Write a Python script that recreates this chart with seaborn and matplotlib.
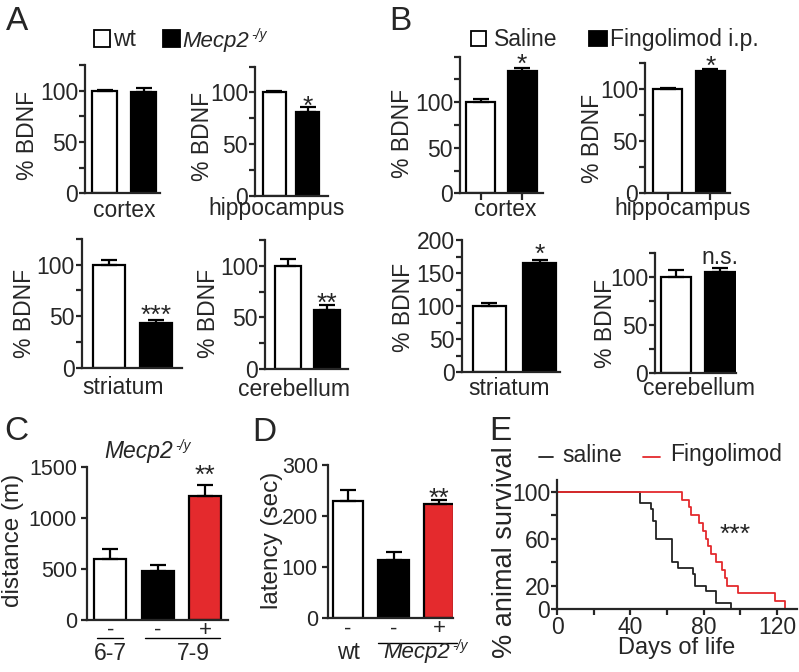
import numpy as np
import pandas as pd
import seaborn as sns
import matplotlib.pyplot as plt
import matplotlib.transforms as mtransforms
from matplotlib.patches import Rectangle
from matplotlib.lines import Line2D

# ---- data ----
# A: wt vs Mecp2-/y, % BDNF
a_cortex, a_cortex_err = [100, 98.5], [1, 4]
a_hippo, a_hippo_err = [100, 81], [1, 5]
a_striatum, a_striatum_err = [100, 43], [5, 3.5]
a_cerebellum, a_cerebellum_err = [100, 57.5], [7, 4.5]
# B: saline vs fingolimod i.p., % BDNF
b_cortex, b_cortex_err = [100, 134.5], [4, 3.5]
b_hippo, b_hippo_err = [100, 117.5], [1.5, 1.8]
b_striatum, b_striatum_err = [100, 165], [5, 5]
b_cerebellum, b_cerebellum_err = [100, 105], [7.5, 4]
# C: distance (m)
c_groups = ["6-7 -", "7-9 -", "7-9 +"]
c_distance, c_distance_err = [595, 475, 1215], [100, 65, 105]
# D: latency (sec)
d_groups = ["wt -", "Mecp2 -", "Mecp2 +"]
d_latency, d_latency_err = [230, 115, 224], [22, 15, 8]
# E: survival curves
saline_days = [0, 45, 51, 52.5, 54, 62.5, 66, 74, 75, 81.5, 87, 95]
saline_surv = [100, 90, 85, 75, 60, 40, 35, 30, 20, 15, 5, 0]
fingo_days = [0, 68, 72, 73.3, 77.5, 79.5, 81.5, 82.5, 84, 87, 90, 91.5, 93, 99, 119, 124.5]
fingo_surv = [100, 93.3, 86.7, 80, 73.3, 66.7, 60, 53.3, 46.7, 40, 33.3, 26.7, 20, 13.3, 6.7, 0]

RED = "#e42a2d"
W, H = 799, 672

sns.set_style("ticks")
plt.rcParams["font.family"] = ["Liberation Sans", "DejaVu Sans"]
plt.rcParams["axes.linewidth"] = 1.6

fig = plt.figure(figsize=(W / 100, H / 100), dpi=100)
renderer = fig.canvas.get_renderer()


def fx(x):
    return x / W


def fy(y):
    return 1 - y / H


def px_rect(x0, y0, x1, y1):
    return [fx(x0), fy(y1), (x1 - x0) / W, (y1 - y0) / H]


def bar_panel(box, means, errs, colors, ymax, yticks, ylabels, xlim, width,
              ylabel, ylab_xy, xlabel=None, xlab_xy=None, xticks=False,
              tick_size=16.5, label_size=16.5):
    ax = fig.add_axes(px_rect(*box))
    df = pd.DataFrame({"g": [str(i) for i in range(len(means))], "v": means})
    sns.barplot(data=df, x="g", y="v", hue="g",
                palette=dict(zip(df["g"], colors)), width=width,
                edgecolor="black", linewidth=1.6, errorbar=None,
                legend=False, saturation=1, ax=ax)
    ax.errorbar(range(len(means)), means, yerr=[np.zeros(len(means)), errs],
                fmt="none", ecolor="black", elinewidth=1.6, capsize=6,
                capthick=1.6, zorder=3)
    sns.despine(ax=ax)
    ax.set_ylim(0, ymax)
    ax.set_xlim(*xlim)
    ax.set_yticks(yticks)
    ax.set_yticklabels(ylabels)
    ax.tick_params(axis="y", length=4, width=1.6, pad=1, labelsize=tick_size)
    ax.tick_params(axis="x", length=5 if xticks else 0, width=1.6,
                   labelbottom=False)
    ax.set_ylabel(ylabel, fontsize=label_size)
    ax.yaxis.set_label_coords(fx(ylab_xy[0]), fy(ylab_xy[1]),
                              transform=fig.transFigure)
    if xlabel:
        ax.set_xlabel(xlabel, fontsize=label_size)
        ax.xaxis.set_label_coords(fx(xlab_xy[0]), fy(xlab_xy[1]),
                                  transform=fig.transFigure)
    else:
        ax.set_xlabel("")
    return ax


def star(ax, i, top, text, gap_px, size=19):
    # place glyph bottom gap_px above the error cap
    if "*" in text:
        off = gap_px - 0.30 * size * 100 / 72
    else:
        off = gap_px
    ax.annotate(text, xy=(i, top), xytext=(0, off * 72 / 100),
                textcoords="offset points", ha="center", va="baseline",
                fontsize=size, annotation_clip=False)


def italic_with_sup(x, y, main, sup, size=16, sup_size=10, rise=8, **kw):
    # italic gene name followed by a small superscript genotype
    t = fig.text(fx(x), fy(y), main, fontsize=size, va="baseline",
                 style="italic", **kw)
    bb = t.get_window_extent(renderer)
    fig.text((bb.x1 + 3) / W, fy(y - rise), sup, fontsize=sup_size,
             va="baseline", style="italic")
    return t


wb = ["white", "black"]
t125 = [0, 25, 50, 75, 100, 125]
l125 = ["0", "", "50", "", "100", ""]

# ---- panel A ----
ax = bar_panel((85, 65, 160, 193.3), a_cortex, a_cortex_err, wb, 125, t125, l125,
               (-0.50, 1.42), 0.66, "% BDNF", (39, 135), "cortex", (124, 199))
ax = bar_panel((255, 66.7, 328, 195.7), a_hippo, a_hippo_err, wb, 125, t125, l125,
               (-0.59, 1.62), 0.70, "% BDNF", (214, 136), "hippocampus", (277, 197))
star(ax, 1, a_hippo[1] + a_hippo_err[1], "*", 1.5)
ax = bar_panel((81.7, 239, 181.7, 367.7), a_striatum, a_striatum_err, wb, 125, t125, l125,
               (-0.57, 1.55), 0.68, "% BDNF", (36, 313), "striatum", (123, 376))
star(ax, 1, a_striatum[1] + a_striatum_err[1], "***", 5)
ax = bar_panel((265, 240, 348, 369), a_cerebellum, a_cerebellum_err, wb, 125, t125, l125,
               (-0.59, 1.54), 0.68, "% BDNF", (220, 313), "cerebellum", (294, 378))
star(ax, 1, a_cerebellum[1] + a_cerebellum_err[1], "**", 2)

# ---- panel B ----
ax = bar_panel((460, 56.7, 543.3, 193.3), b_cortex, b_cortex_err, wb, 150,
               [0, 25, 50, 75, 100, 125, 150], ["0", "", "50", "", "100", "", ""],
               (-0.50, 1.51), 0.70, "% BDNF", (414, 133), "cortex", (505, 198),
               xticks=True)
star(ax, 1, b_cortex[1] + b_cortex_err[1], "*", 3.7)
ax = bar_panel((645, 63.3, 730, 193.3), b_hippo, b_hippo_err, wb, 125, t125, l125,
               (-0.53, 1.46), 0.69, "% BDNF", (604, 138), "hippocampus", (683, 197),
               xticks=True)
star(ax, 1, b_hippo[1] + b_hippo_err[1], "*", 3.3)
ax = bar_panel((461.7, 240, 560, 372.3), b_striatum, b_striatum_err, wb, 200,
               [0, 25, 50, 75, 100, 125, 150, 175, 200],
               ["0", "", "50", "", "100", "", "150", "", "200"],
               (-0.55, 1.40), 0.66, "% BDNF", (415, 307), "striatum", (509, 377))
star(ax, 1, b_striatum[1] + b_striatum_err[1], "*", 6)
ax = bar_panel((655, 252.7, 736, 373.3), b_cerebellum, b_cerebellum_err, wb, 125, t125, l125,
               (-0.48, 1.36), 0.68, "% BDNF", (617, 323), "cerebellum", (699, 377))
star(ax, 1, b_cerebellum[1] + b_cerebellum_err[1], "n.s.", 4, size=16.5)

# ---- panel C ----
ax = bar_panel((86.7, 466.7, 228.3, 620), c_distance, c_distance_err,
               ["white", "black", RED], 1500, [0, 500, 1000, 1500],
               ["0", "500", "1000", "1500"], (-0.50, 2.49), 0.68,
               "distance (m)", (24, 540), tick_size=15.5, label_size=17.5)
ax.tick_params(axis="y", pad=3)
star(ax, 2, c_distance[2] + c_distance_err[2], "**", 10)
bt = mtransforms.blended_transform_factory(ax.transData, fig.transFigure)
for i, s in enumerate(["-", "-", "+"]):
    ax.text(i, fy(630), s, transform=bt, ha="center", va="center", fontsize=16)
ax.plot([-0.29, 0.27], [fy(638.3)] * 2, transform=bt, color="black", lw=1, clip_on=False)
ax.plot([0.73, 2.32], [fy(638.3)] * 2, transform=bt, color="black", lw=1, clip_on=False)
ax.text(0, fy(660), "6-7", transform=bt, ha="center", va="baseline", fontsize=16.5)
ax.text(1.75, fy(660), "7-9", transform=bt, ha="center", va="baseline", fontsize=16.5)

# ---- panel D ----
ax = bar_panel((327.7, 465, 453.3, 618.3), d_latency, d_latency_err,
               ["white", "black", RED], 300, [0, 100, 200, 300],
               ["0", "100", "200", "300"], (-0.45, 2.31), 0.67,
               "latency (sec)", (283, 540), tick_size=15.5, label_size=17.5)
ax.tick_params(axis="y", pad=3)
star(ax, 2, d_latency[2] + d_latency_err[2], "**", 2)
bt = mtransforms.blended_transform_factory(ax.transData, fig.transFigure)
for i, s in enumerate(["-", "-", "+"]):
    ax.text(i, fy(629), s, transform=bt, ha="center", va="center", fontsize=16)
ax.plot([0.665, 2.39], [fy(643)] * 2, transform=bt, color="black", lw=1, clip_on=False)
ax.text(0, fy(659), "wt", transform=bt, ha="center", va="baseline", fontsize=16.5)
italic_with_sup(383, 658, "Mecp2", "-/y", size=16)

# ---- panel E ----
ax = fig.add_axes(px_rect(557.3, 480, 797, 609))
sns.lineplot(x=saline_days, y=saline_surv, drawstyle="steps-post", color="#222222",
             lw=1.3, estimator=None, sort=False, ax=ax)
sns.lineplot(x=fingo_days, y=fingo_surv, drawstyle="steps-post", color=RED,
             lw=1.3, estimator=None, sort=False, ax=ax)
sns.despine(ax=ax)
ax.set_xlim(0, 131)
ax.set_ylim(0, 110)
ax.set_xticks([0, 20, 40, 60, 80, 100, 120])
ax.set_xticklabels(["0", "", "40", "", "80", "", "120"])
ax.set_yticks([0, 20, 40, 60, 80, 100])
ax.set_yticklabels(["0", "20", "", "60", "", "100"])
ax.tick_params(length=4, width=1.6, pad=1, labelsize=16.5)
ax.set_xlabel("Days of life", fontsize=17)
ax.xaxis.set_label_coords(fx(677), fy(637), transform=fig.transFigure)
ax.set_ylabel("% animal survival", fontsize=19.5)
ax.yaxis.set_label_coords(fx(518), fy(552), transform=fig.transFigure)
ax.text(97, 57, "***", ha="center", va="baseline", fontsize=19)

# ---- panel letters ----
for letter, x, y in [("A", 6, 30), ("B", 389, 30), ("C", 4, 440),
                     ("D", 252, 441), ("E", 489, 440)]:
    fig.text(fx(x), fy(y), letter, fontsize=24, ha="left", va="baseline")

# ---- legends ----
fig.add_artist(Rectangle((fx(94), fy(47)), 16 / W, 17 / H, transform=fig.transFigure,
                         facecolor="white", edgecolor="black", lw=1.3))
fig.text(fx(113), fy(46.5), "wt", fontsize=16.5, va="baseline")
fig.add_artist(Rectangle((fx(163), fy(47)), 17 / W, 17 / H, transform=fig.transFigure,
                         facecolor="black", edgecolor="black", lw=1.3))
italic_with_sup(182, 46.5, "Mecp2", "-/y", size=16)

fig.add_artist(Rectangle((fx(470.7), fy(46)), 15.3 / W, 15 / H, transform=fig.transFigure,
                         facecolor="white", edgecolor="black", lw=1.3))
fig.text(fx(494), fy(46), "Saline", fontsize=16.5, va="baseline")
fig.add_artist(Rectangle((fx(589.3), fy(45.5)), 17.4 / W, 14.5 / H, transform=fig.transFigure,
                         facecolor="black", edgecolor="black", lw=1.3))
fig.text(fx(610), fy(46), "Fingolimod i.p.", fontsize=16.5, va="baseline")

italic_with_sup(104, 458, "Mecp2", "-/y", size=16.5)

fig.add_artist(Line2D([fx(539), fx(553)], [fy(456.7)] * 2, transform=fig.transFigure,
                      color="#222222", lw=1.3))
fig.text(fx(562), fy(461.5), "saline", fontsize=16.5, va="baseline")
fig.add_artist(Line2D([fx(643), fx(660)], [fy(456.7)] * 2, transform=fig.transFigure,
                      color=RED, lw=1.3))
fig.text(fx(670), fy(461), "Fingolimod", fontsize=16.5, va="baseline")

fig.savefig("out.png", dpi=100)
